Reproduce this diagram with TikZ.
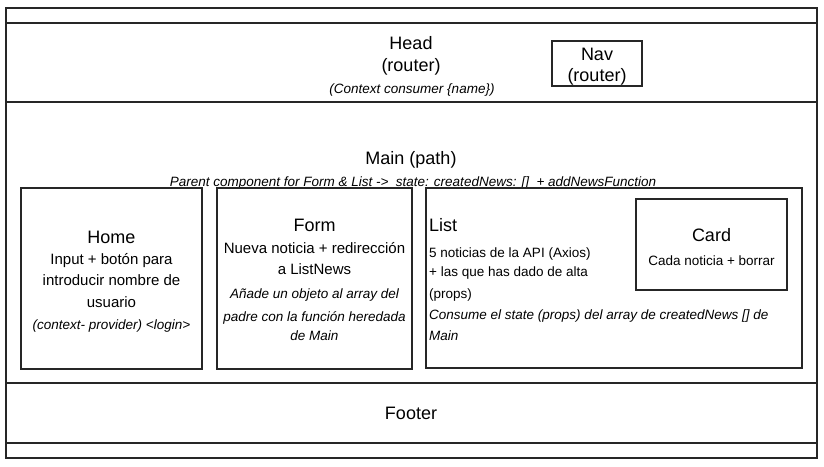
\documentclass[tikz,border=0pt]{standalone}
\usepackage{fontspec}
\setmainfont{Liberation Sans}
\newcommand\fbig{\fontsize{18}{22}\selectfont}
\newcommand\fmid{\fontsize{15}{18}\selectfont}
\newcommand\fsm{\fontsize{13.5}{16}\selectfont}
\begin{document}
\begin{tikzpicture}[x=1pt,y=-1pt,
  box/.style={draw=black!85, line width=1.3pt},
  lbl/.style={inner sep=0pt, anchor=base, text=black},
  lblw/.style={inner sep=0pt, anchor=base west, text=black}]
\useasboundingbox (0,0) rectangle (824,466);
\fill[white] (0,0) rectangle (824,466);
% stacked frames
\draw[box] (6,8) rectangle (817,458);
\draw[box] (6,23) rectangle (817,102);
\draw[box] (6,102) rectangle (817,383);
\draw[box] (6,383) rectangle (817,443);
% Head
\node[lbl] (head) at (411,49.5) {\fbig Head};
\node[lbl] (headr) at (411,71.5) {\fbig (router)};
\node[lbl] (headc) at (412,93) {\fsm\itshape (Context consumer \{name\})};
% Nav
\draw[box] (552,41) rectangle (642,86);
\node[lbl] (nav) at (597,60.5) {\fbig Nav};
\node[lbl] (navr) at (597,81.5) {\fbig (router)};
% Main
\node[lbl] (main) at (411,164.5) {\fbig Main (path)};
\node[lbl] (parent) at (413,186) {\fsm\itshape Parent component for Form \& List ->\ \ state: createdNews: []\ \ + addNewsFunction};
% Home
\draw[box] (21,188) rectangle (202,369);
\node[lbl] (home) at (111.5,243.5) {\fbig Home};
\node[lbl] (home1) at (111.5,264.5) {\fmid Input + botón para};
\node[lbl] (home2) at (111.5,285.5) {\fmid introducir nombre de};
\node[lbl] (home3) at (111.5,307.5) {\fmid usuario};
\node[lbl] (home4) at (111.5,329) {\fsm\itshape (context- provider) <login>};
% Form
\draw[box] (217,188) rectangle (412,369);
\node[lbl] (form) at (314.5,231.5) {\fbig Form};
\node[lbl] (form1) at (314.5,253.5) {\fmid Nueva noticia + redirección};
\node[lbl] (form2) at (314.5,274.5) {\fmid a ListNews};
\node[lbl] (form3) at (314.5,298) {\fsm\itshape Añade un objeto al array del};
\node[lbl] (form4) at (314.5,321) {\fsm\itshape padre con la función heredada};
\node[lbl] (form5) at (314.5,340) {\fsm\itshape de Main};
% List
\draw[box] (426,188) rectangle (802,368);
\node[lblw] (list) at (429,231.5) {\fbig List};
\node[lblw] (list1) at (429,257) {\fsm 5 noticias de la API (Axios)};
\node[lblw] (list2) at (429,276) {\fsm + las que has dado de alta};
\node[lblw] (list3) at (429,298) {\fsm (props)};
\node[lblw] (list4) at (429,319) {\fsm\itshape Consume el state (props) del array de createdNews [] de};
\node[lblw] (list5) at (429,340) {\fsm\itshape Main};
% Card
\draw[box] (636,199) rectangle (787,290);
\node[lbl] (card) at (711.5,241.5) {\fbig Card};
\node[lbl] (card1) at (711.5,265) {\fsm Cada noticia + borrar};
% Footer
\node[lbl] (footer) at (411,419.5) {\fbig Footer};
\end{tikzpicture}
\end{document}
